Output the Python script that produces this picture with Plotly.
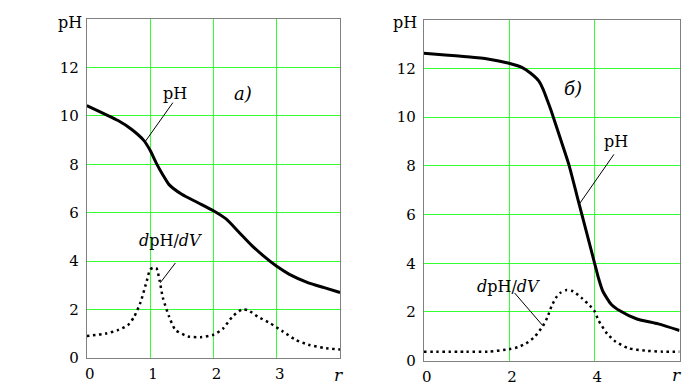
import plotly.graph_objects as go

# ---- data ----
a_ph_x = [0, 0.5, 0.7, 0.9, 1.0, 1.1, 1.2, 1.3, 1.5, 1.75, 2.0, 2.2, 2.4, 2.6, 2.8, 3.0, 3.2, 3.5, 3.75, 4.0]
a_ph_y = [10.43, 9.8, 9.46, 8.99, 8.58, 8.04, 7.57, 7.16, 6.76, 6.42, 6.08, 5.74, 5.2, 4.66, 4.19, 3.78, 3.45, 3.1, 2.9, 2.7]

a_d_x = [0, 0.3, 0.5, 0.65, 0.75, 0.85, 0.95, 1.0, 1.05, 1.1, 1.15, 1.2, 1.3, 1.4, 1.6, 1.8, 2.0, 2.15, 2.3, 2.45, 2.55, 2.7, 2.9, 3.1, 3.3, 3.5, 3.75, 4.0]
a_d_y = [0.9, 1.0, 1.15, 1.35, 1.7, 2.3, 3.2, 3.65, 3.72, 3.7, 3.2, 2.5, 1.7, 1.15, 0.88, 0.85, 0.95, 1.2, 1.7, 1.99, 1.96, 1.7, 1.42, 1.08, 0.74, 0.54, 0.4, 0.34]

b_ph_x = [0, 0.5, 1.0, 1.5, 2.0, 2.3, 2.5, 2.7, 2.8, 2.9, 3.0, 3.2, 3.4, 3.6, 3.8, 4.0, 4.1, 4.2, 4.4, 4.6, 5.0, 5.5, 6.0]
b_ph_y = [12.62, 12.55, 12.48, 12.39, 12.21, 12.04, 11.81, 11.48, 11.14, 10.68, 10.2, 9.14, 8.07, 6.73, 5.39, 4.05, 3.38, 2.85, 2.31, 2.05, 1.71, 1.51, 1.24]

b_d_x = [0, 1.0, 1.5, 2.0, 2.2, 2.4, 2.6, 2.8, 2.9, 3.0, 3.1, 3.2, 3.35, 3.5, 3.7, 3.9, 4.0, 4.1, 4.3, 4.5, 4.8, 5.2, 5.6, 6.0]
b_d_y = [0.37, 0.37, 0.37, 0.47, 0.55, 0.71, 0.98, 1.44, 1.78, 2.25, 2.58, 2.78, 2.9, 2.85, 2.58, 2.25, 2.05, 1.65, 1.11, 0.78, 0.51, 0.41, 0.37, 0.37]

a_xticks = [0, 1, 2, 3]
b_xticks = [0, 2, 4]
y_ticks = [0, 2, 4, 6, 8, 10, 12]

SERIF = "DejaVu Serif"
GRID = "#33ff33"
FRAME = "#808080"

fig = go.Figure()

solid = dict(color="black", width=3)
dotted = dict(color="black", width=2.5, dash="2.5px,3.6px")

fig.add_trace(go.Scatter(x=a_ph_x, y=a_ph_y, mode="lines", line=dict(shape="spline", smoothing=0.6, **solid), xaxis="x", yaxis="y"))
fig.add_trace(go.Scatter(x=a_d_x, y=a_d_y, mode="lines", line=dict(shape="spline", smoothing=0.6, **dotted), xaxis="x", yaxis="y"))
fig.add_trace(go.Scatter(x=b_ph_x, y=b_ph_y, mode="lines", line=dict(shape="spline", smoothing=0.6, **solid), xaxis="x2", yaxis="y2"))
fig.add_trace(go.Scatter(x=b_d_x, y=b_d_y, mode="lines", line=dict(shape="spline", smoothing=0.6, **dotted), xaxis="x2", yaxis="y2"))

def xax(dom, rng, ticks, anchor):
    return dict(domain=dom, range=rng, tickvals=ticks, ticktext=[str(t) for t in ticks],
                showgrid=True, gridcolor=GRID, gridwidth=1, zeroline=False,
                showline=True, linecolor=FRAME, linewidth=1, mirror=True,
                ticks="", ticklabelstandoff=2, ticklabelshift=3,
                tickfont=dict(family=SERIF, size=15, color="black"), anchor=anchor)

def yax(dom, ticks, anchor):
    return dict(domain=dom, range=[0, 14], tickvals=ticks, ticktext=[str(t) for t in ticks],
                showgrid=True, gridcolor=GRID, gridwidth=1, zeroline=False,
                showline=True, linecolor=FRAME, linewidth=1, mirror=True,
                ticks="", ticklabelstandoff=4,
                tickfont=dict(family=SERIF, size=15, color="black"), anchor=anchor)

W, H = 690, 390
fig.update_layout(
    width=W, height=H, margin=dict(l=0, r=0, t=0, b=0),
    paper_bgcolor="white", plot_bgcolor="white", showlegend=False,
    font=dict(family=SERIF),
    xaxis=xax([77 / W, 331 / W], [0, 4], a_xticks, "y"),
    yaxis=yax([(H - 358) / H, (H - 11.5) / H], y_ticks, "x"),
    xaxis2=xax([415 / W, 671.5 / W], [0, 6], b_xticks, "y2"),
    yaxis2=yax([(H - 361) / H, (H - 12) / H], y_ticks, "x2"),
)

# labels
labels = [
    ("x", "y", 1.39, 10.94, "pH", False, 16),
    ("x", "y", 2.47, 10.94, "а)", True, 18),
    ("x", "y", 1.32, 4.85, "<i>d</i>pH/<i>dV</i>", False, 16),
    ("x2", "y2", 4.51, 8.98, "pH", False, 16),
    ("x2", "y2", 3.51, 11.19, "б)", True, 18),
    ("x2", "y2", 1.99, 3.05, "<i>d</i>pH/<i>dV</i>", False, 16),
]
for xr, yr, x, y, t, it, s in labels:
    fig.add_annotation(xref=xr, yref=yr, x=x, y=y, text=f"<i>{t}</i>" if it else t,
                       showarrow=False, font=dict(family=SERIF, size=s, color="black"))

leaders = [
    ("x", "y", 1.36, 10.55, 0.92, 8.93),
    ("x", "y", 1.40, 3.92, 1.16, 3.1),
    ("x2", "y2", 4.46, 8.47, 3.66, 6.46),
    ("x2", "y2", 2.13, 2.78, 2.79, 1.44),
]
for xr, yr, x0, y0, x1, y1 in leaders:
    fig.add_shape(type="line", xref=xr, yref=yr, x0=x0, y0=y0, x1=x1, y1=y1,
                  line=dict(color="black", width=1))

# axis titles
for x, y, t, it in [(60, 15, "pH", False), (396, 15, "pH", False), (329, 376, "r", True), (668, 376, "r", True)]:
    fig.add_annotation(xref="paper", yref="paper", x=x / W, y=1 - y / H, text=f"<i>{t}</i>" if it else t,
                       showarrow=False, xanchor="center", yanchor="middle",
                       font=dict(family=SERIF, size=17 if it else 16, color="black"))

fig.write_html("out.html")
